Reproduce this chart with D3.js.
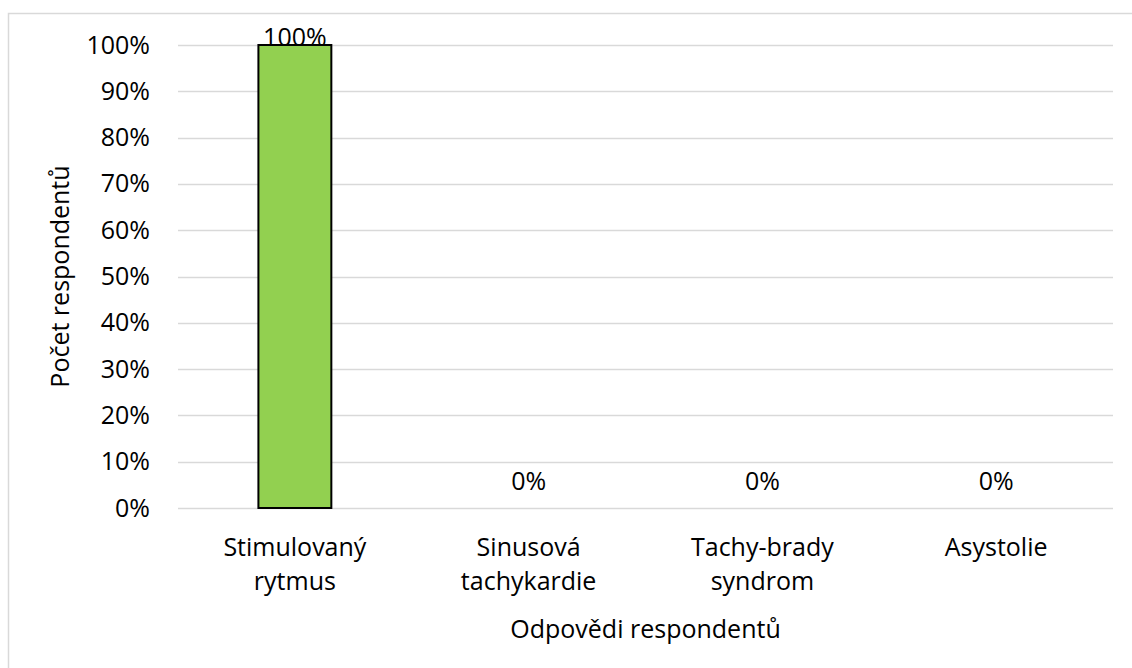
<!DOCTYPE html>
<html>
<head>
<meta charset="utf-8">
<script src="https://cdn.jsdelivr.net/npm/d3@7"></script>
<style>
  html, body { margin: 0; padding: 0; background: #fff; }
  svg { display: block; font-family: "Open Sans", Lato, sans-serif; }
</style>
</head>
<body>
<svg id="chart" width="1132" height="668"></svg>
<script>
// Answer categories (multi-line labels split on "\n")
const categories = ["Stimulovaný\nrytmus", "Sinusová\ntachykardie", "Tachy-brady\nsyndrom", "Asystolie"];
// Share of respondents for each answer (%)
const values = [100, 0, 0, 0];
// Y axis ticks (%)
const yTicks = [0, 10, 20, 30, 40, 50, 60, 70, 80, 90, 100];
const yTitle = "Počet respondentů";
const xTitle = "Odpovědi respondentů";

const FONT = 25;
const NUM_FONT = 25;
const svg = d3.select("#chart");
const margin = { left: 178, right: 1132 - 1113, top: 45, bottom: 668 - 508 };
const W = 1132, H = 668;

// outer chart frame
svg.append("rect")
  .attr("x", 8.5).attr("y", 13.5)
  .attr("width", 1140).attr("height", 700)
  .attr("fill", "none").attr("stroke", "#d9d9d9").attr("stroke-width", 1.5);

const x = d3.scaleBand()
  .domain(categories)
  .range([margin.left, W - margin.right])
  .paddingInner(0.688)
  .paddingOuter(0.344);

const y = d3.scaleLinear()
  .domain([0, 100])
  .range([H - margin.bottom, margin.top]);

// horizontal gridlines
svg.append("g")
  .selectAll("line")
  .data(yTicks)
  .join("line")
  .attr("x1", margin.left).attr("x2", W - margin.right)
  .attr("y1", d => Math.round(y(d)) + 0.5).attr("y2", d => Math.round(y(d)) + 0.5)
  .attr("stroke", "#d9d9d9").attr("stroke-width", 1.5);

// y axis labels
const yAxis = d3.axisLeft(y)
  .tickValues(yTicks)
  .tickFormat(d => d + "%")
  .tickSize(0)
  .tickPadding(28);
const gy = svg.append("g")
  .attr("transform", `translate(${margin.left},0)`)
  .call(yAxis);
gy.select(".domain").remove();
gy.selectAll("text")
  .attr("font-size", NUM_FONT)
  .attr("fill", "#000")
  .attr("font-family", "'Open Sans', Lato, sans-serif");

// bars
svg.append("g")
  .selectAll("rect")
  .data(values)
  .join("rect")
  .attr("x", (d, i) => x(categories[i]))
  .attr("width", x.bandwidth())
  .attr("y", d => y(d))
  .attr("height", d => y(0) - y(d))
  .attr("fill", "#92d050")
  .attr("stroke", d => d > 0 ? "#000" : "none")
  .attr("stroke-width", 2);

// value labels
svg.append("g")
  .selectAll("text")
  .data(values)
  .join("text")
  .attr("x", (d, i) => x(categories[i]) + x.bandwidth() / 2)
  .attr("y", d => y(d) + 1)
  .attr("text-anchor", "middle")
  .attr("font-size", NUM_FONT)
  .attr("fill", "#000")
  .text(d => d + "%")
  .attr("dy", d => d > 0 ? 0 : -19);

// category labels
const catG = svg.append("g");
categories.forEach(c => {
  const t = catG.append("text")
    .attr("x", x(c) + x.bandwidth() / 2)
    .attr("y", 556)
    .attr("text-anchor", "middle")
    .attr("font-size", FONT)
    .attr("fill", "#000");
  c.split("\n").forEach((line, k) => {
    t.append("tspan")
      .attr("x", x(c) + x.bandwidth() / 2)
      .attr("dy", k === 0 ? 0 : 34)
      .text(line);
  });
});

// axis titles
svg.append("text")
  .attr("x", (margin.left + W - margin.right) / 2)
  .attr("y", 638)
  .attr("text-anchor", "middle")
  .attr("font-size", FONT)
  .attr("fill", "#000")
  .text(xTitle);

svg.append("text")
  .attr("transform", `translate(69,${(y(0) + y(100)) / 2}) rotate(-90)`)
  .attr("text-anchor", "middle")
  .attr("font-size", FONT)
  .attr("fill", "#000")
  .text(yTitle);
</script>
</body>
</html>
